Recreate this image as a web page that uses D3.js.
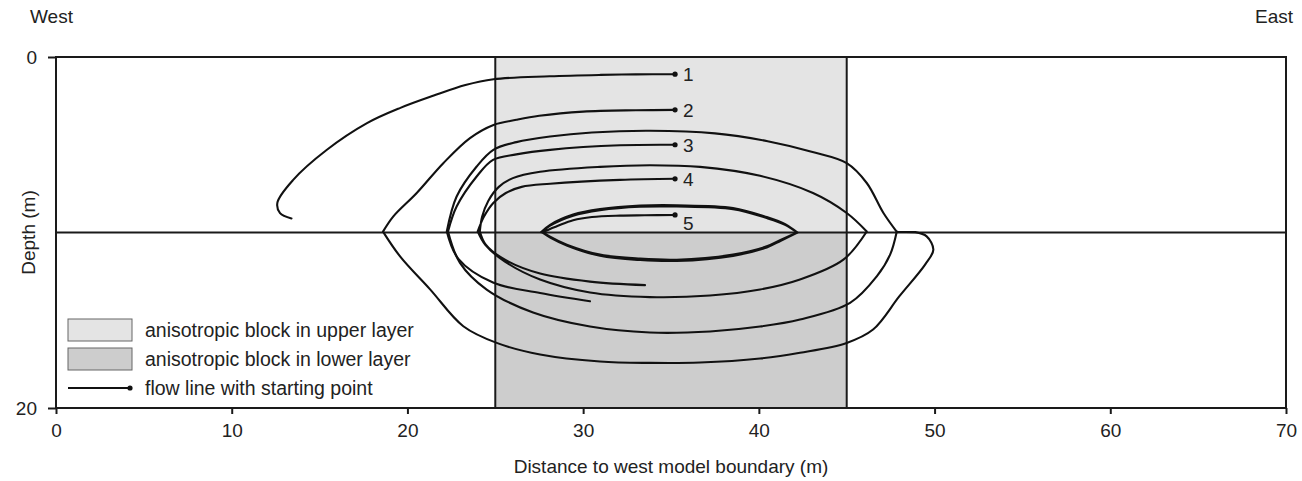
<!DOCTYPE html>
<html>
<head>
<meta charset="utf-8">
<script src="https://cdn.jsdelivr.net/npm/d3@7"></script>
<style>
  body { margin: 0; background: #fff; }
  svg { display: block; }
  text { font-family: "Liberation Sans", Arial, sans-serif; fill: #222; }
</style>
</head>
<body>
<div id="chart"></div>
<script>
// axis values
const xTicks = [0, 10, 20, 30, 40, 50, 60, 70];
const depthTicks = [0, 20];
const layerBoundary = 10;

// anisotropic block (distance from west boundary, depth range per layer)
const blockX = [25, 45];
const blockUpper = [0, 10];
const blockLower = [10, 20];

const legendLabels = [
    "anisotropic block in upper layer",
    "anisotropic block in lower layer",
    "flow line with starting point"
];
const lineLabels = ["1", "2", "3", "4", "5"];

// flow lines as [distance (m), depth (m)], first point is the starting point
const flow1 = [[35.23, 0.98], [33.0, 0.99], [31.0, 1.02], [28.1, 1.1], [24.9, 1.27], [23.3, 1.6],
    [21.5, 2.2], [19.6, 2.9], [17.7, 3.77], [15.4, 5.3], [13.5, 7.0], [12.6, 8.3], [12.75, 8.9], [13.4, 9.2]];

const flow2 = [[35.23, 3.01], [33.0, 3.03], [30.0, 3.11], [27.5, 3.35], [26.2, 3.58], [24.9, 3.87],
    [23.56, 4.62], [22.04, 6.05], [20.53, 7.75], [19.2, 9.08], [18.61, 9.95],
    [19.58, 11.36], [21.29, 13.24], [23.18, 15.34], [25.08, 16.29], [27.55, 16.95], [30.96, 17.35],
    [33.8, 17.43], [36.65, 17.41], [40.07, 17.18], [42.34, 16.85], [45.0, 16.29], [46.5, 15.53],
    [48.0, 13.63], [49.46, 11.83], [49.93, 10.98], [49.55, 10.22], [48.9, 9.98], [47.85, 9.96],
    [47.09, 8.89], [46.14, 7.18], [45.0, 6.05], [43.0, 5.4], [40.5, 4.8], [37.5, 4.35], [33.8, 4.2],
    [30.5, 4.3], [28.12, 4.53], [26.2, 4.85], [24.89, 5.29], [23.94, 6.24], [22.8, 7.95], [22.24, 9.94],
    [22.9, 11.5], [24.87, 12.85], [27.55, 13.45], [30.39, 13.92]];

const flow3 = [[35.23, 5.0], [32.1, 5.03], [28.12, 5.29], [26.2, 5.55], [24.87, 5.86], [23.94, 6.81],
    [22.8, 8.52], [22.31, 9.94],
    [22.99, 11.73], [24.51, 13.25], [27.15, 14.56], [30.39, 15.36], [33.8, 15.7], [37.22, 15.64],
    [40.07, 15.36], [42.34, 14.96], [45.19, 14.01], [46.71, 12.5], [47.47, 11.26], [47.85, 9.94]];

const flow4 = [[35.23, 6.94], [32.1, 7.0], [28.12, 7.22], [26.5, 7.4], [25.6, 7.75], [24.9, 8.3],
    [24.35, 9.1], [24.0, 9.94],
    [24.42, 10.69], [25.55, 11.66], [27.55, 12.68], [30.39, 13.42], [33.8, 13.68], [37.22, 13.59],
    [40.07, 13.25], [42.34, 12.68], [44.81, 11.55], [46.14, 9.94],
    [45.0, 8.89], [43.08, 7.75], [40.07, 6.77], [36.65, 6.26], [33.8, 6.17], [30.96, 6.26],
    [27.55, 6.54], [26.0, 6.9], [25.2, 7.4], [24.6, 8.2], [24.25, 9.1], [24.12, 9.94],
    [24.46, 10.69], [25.55, 11.55], [27.55, 12.34], [30.39, 12.8], [33.52, 13.0]];

const flow5 = [[35.23, 9.0], [33.5, 9.02], [32.1, 9.04], [30.5, 9.12], [29.43, 9.3], [28.6, 9.6], [27.72, 9.97],
    [28.12, 10.24], [29.07, 10.69], [30.96, 11.26], [33.24, 11.49], [35.33, 11.55], [38.53, 11.26],
    [40.45, 10.79], [41.2, 10.44], [42.17, 10.0],
    [41.49, 9.56], [40.45, 9.18], [38.53, 8.67], [35.33, 8.52], [33.24, 8.53], [30.96, 8.73],
    [29.43, 9.04], [28.12, 9.61], [27.65, 9.98],
    [28.15, 10.3], [29.1, 10.75], [30.96, 11.33], [33.24, 11.57], [35.33, 11.62], [38.53, 11.33],
    [40.45, 10.85], [41.25, 10.47], [42.2, 10.0],
    [41.5, 9.52], [40.45, 9.12], [38.53, 8.6], [35.33, 8.45], [33.24, 8.47], [30.96, 8.67],
    [29.43, 8.98], [28.12, 9.56], [27.6, 9.98]];

const flowLines = [flow1, flow2, flow3, flow4, flow5];

const margin = { top: 57, right: 16, bottom: 73, left: 56 };
const W = 1302, H = 481;
const width = W - margin.left - margin.right;
const height = H - margin.top - margin.bottom;

const svg = d3.select("#chart").append("svg")
    .attr("width", W)
    .attr("height", H);

const g = svg.append("g").attr("transform", `translate(${margin.left},${margin.top})`);

const x = d3.scaleLinear().domain([0, 70]).range([0, width]);
const y = d3.scaleLinear().domain([0, 20]).range([0, height]);

const ink = "#1a1a1a";

// block
g.append("rect")
    .attr("x", x(blockX[0])).attr("y", y(blockUpper[0]))
    .attr("width", x(blockX[1]) - x(blockX[0]))
    .attr("height", y(blockUpper[1]) - y(blockUpper[0]))
    .attr("fill", "#e4e4e4");
g.append("rect")
    .attr("x", x(blockX[0])).attr("y", y(blockLower[0]))
    .attr("width", x(blockX[1]) - x(blockX[0]))
    .attr("height", y(blockLower[1]) - y(blockLower[0]))
    .attr("fill", "#cdcdcd");

for (const bx of blockX) {
    g.append("line")
        .attr("x1", x(bx)).attr("x2", x(bx))
        .attr("y1", 0).attr("y2", height)
        .attr("stroke", ink).attr("stroke-width", 2);
}

// layer boundary
g.append("line")
    .attr("x1", 0).attr("x2", width)
    .attr("y1", y(layerBoundary)).attr("y2", y(layerBoundary))
    .attr("stroke", ink).attr("stroke-width", 2);

// flow lines: smooth within a layer, sharp bend where they cross the boundary
const line = d3.line()
    .x(d => x(d[0]))
    .y(d => y(d[1]))
    .curve(d3.curveCatmullRom.alpha(0.5));

function splitAtBoundary(pts) {
    const segs = [];
    let cur = [pts[0]];
    for (let i = 1; i < pts.length; i++) {
        cur.push(pts[i]);
        if (Math.abs(pts[i][1] - layerBoundary) < 0.1 && i < pts.length - 1) {
            segs.push(cur);
            cur = [pts[i]];
        }
    }
    segs.push(cur);
    return segs;
}

g.append("g").selectAll("path")
    .data(flowLines)
    .join("path")
    .attr("d", d => splitAtBoundary(d).map(s => line(s)).join(""))
    .attr("fill", "none")
    .attr("stroke", "#111")
    .attr("stroke-width", 2.1)
    .attr("stroke-linecap", "round")
    .attr("stroke-linejoin", "round");

g.append("g").selectAll("circle")
    .data(flowLines)
    .join("circle")
    .attr("cx", d => x(d[0][0]))
    .attr("cy", d => y(d[0][1]))
    .attr("r", 2.6)
    .attr("fill", "#111");

g.append("g").selectAll("text")
    .data(flowLines)
    .join("text")
    .attr("x", d => x(d[0][0]) + 8)
    .attr("y", (d, i) => y(d[0][1]) + (i === 4 ? 8 : 0))
    .attr("dy", "0.36em")
    .attr("font-size", 19)
    .text((d, i) => lineLabels[i]);

// frame
g.append("rect")
    .attr("width", width).attr("height", height)
    .attr("fill", "none")
    .attr("stroke", ink).attr("stroke-width", 2);

// axes
const xAxis = g.append("g")
    .attr("transform", `translate(0,${height})`)
    .call(d3.axisBottom(x).tickValues(xTicks).tickSize(6).tickPadding(10).tickFormat(d3.format("d")));
const yAxis = g.append("g")
    .call(d3.axisLeft(y).tickValues(depthTicks).tickSize(8).tickPadding(11).tickFormat(d3.format("d")));

for (const a of [xAxis, yAxis]) {
    a.select(".domain").remove();
    a.selectAll(".tick line").attr("stroke", ink).attr("stroke-width", 2);
    a.selectAll(".tick text")
        .attr("font-size", 19)
        .attr("font-family", "\"Liberation Sans\", Arial, sans-serif")
        .attr("fill", "#222");
}

// titles
svg.append("text")
    .attr("x", margin.left + width / 2)
    .attr("y", 473)
    .attr("text-anchor", "middle")
    .attr("font-size", 19)
    .text("Distance to west model boundary (m)");

svg.append("text")
    .attr("transform", `translate(35,${margin.top + height / 2}) rotate(-90)`)
    .attr("text-anchor", "middle")
    .attr("font-size", 19)
    .text("Depth (m)");

svg.append("text")
    .attr("x", 30).attr("y", 23)
    .attr("font-size", 19)
    .text("West");
svg.append("text")
    .attr("x", 1293).attr("y", 23)
    .attr("text-anchor", "end")
    .attr("font-size", 19)
    .text("East");

// legend
const legend = svg.append("g").attr("transform", "translate(68,319)");
const legendFills = ["#e4e4e4", "#cdcdcd"];
legend.selectAll("rect")
    .data(legendFills)
    .join("rect")
    .attr("x", 0)
    .attr("y", (d, i) => i * 29)
    .attr("width", 64)
    .attr("height", 22)
    .attr("fill", d => d)
    .attr("stroke", "#666")
    .attr("stroke-width", 1);

legend.append("line")
    .attr("x1", 0).attr("x2", 62)
    .attr("y1", 2 * 29 + 11).attr("y2", 2 * 29 + 11)
    .attr("stroke", "#111").attr("stroke-width", 2);
legend.append("circle")
    .attr("cx", 62).attr("cy", 2 * 29 + 11)
    .attr("r", 2.6).attr("fill", "#111");

legend.selectAll("text")
    .data(legendLabels)
    .join("text")
    .attr("x", 77)
    .attr("y", (d, i) => i * 29 + 11)
    .attr("dy", "0.36em")
    .attr("font-size", 19.5)
    .text(d => d);
</script>
</body>
</html>
